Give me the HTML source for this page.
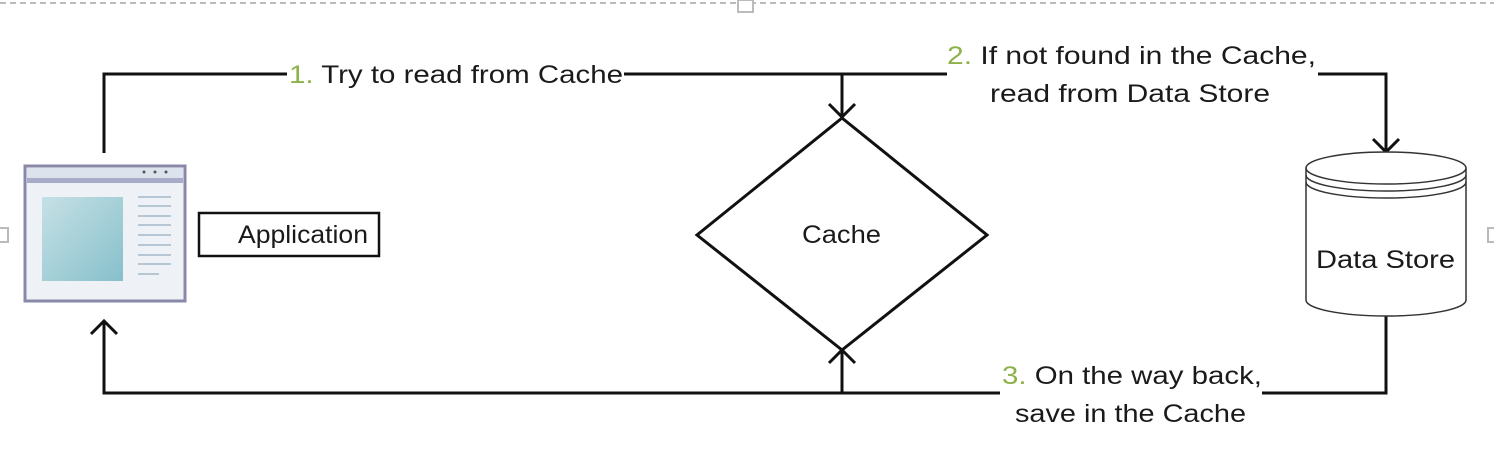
<!DOCTYPE html>
<html><head><meta charset="utf-8"><style>
html,body{margin:0;padding:0;background:#fff;width:1494px;height:459px;overflow:hidden}
svg{display:block}
text{font-family:"Liberation Sans",sans-serif;font-size:25px;fill:#1a1a1a}
.g{fill:#8db24a}
</style></head><body>
<svg width="1494" height="459" viewBox="0 0 1494 459">
<line x1="0" y1="3" x2="1494" y2="3" stroke="#bbb" stroke-width="2" stroke-dasharray="6,4"/>
<rect x="738" y="0" width="15" height="12" fill="#fff" stroke="#bbb" stroke-width="2"/>
<rect x="-6" y="228" width="14" height="14" fill="#fff" stroke="#bbb" stroke-width="2"/>
<rect x="1488" y="228" width="14" height="14" fill="#fff" stroke="#bbb" stroke-width="2"/>
<g stroke="#111" stroke-width="3" fill="none">
<polyline points="104,153 104,74 287,74"/>
<line x1="624" y1="74" x2="947" y2="74"/>
<line x1="842" y1="74" x2="842" y2="116"/>
<polyline points="829,104 842,117 855,104"/>
<polyline points="1318,74 1386,74 1386,152"/>
<polyline points="1373,139 1386,152 1399,139"/>
<polygon points="842,118 987,235 842,350 697,235"/>
<polyline points="1386,316 1386,393 1262,393"/>
<polyline points="1000,393 104,393 104,321"/>
<polyline points="91,334 104,321 117,334"/>
<line x1="842" y1="393" x2="842" y2="351"/>
<polyline points="829,363 842,350 855,363"/>
<rect x="199" y="213" width="180" height="43" stroke-width="2.5"/>
</g>
<g>
<rect x="25" y="166" width="160" height="135" fill="#eef2f6" stroke="#8a88a8" stroke-width="3"/>
<rect x="27" y="168" width="156" height="12" fill="#dde3ec"/>
<rect x="27" y="178" width="156" height="5" fill="#a9acc8"/>
<circle cx="144" cy="172" r="1.5" fill="#555"/><circle cx="155" cy="172" r="1.5" fill="#555"/><circle cx="166" cy="172" r="1.5" fill="#555"/>
<defs><linearGradient id="gr" x1="0" y1="0" x2="1" y2="1"><stop offset="0" stop-color="#c6e0e5"/><stop offset="1" stop-color="#86c0cb"/></linearGradient></defs>
<rect x="42" y="197" width="81" height="84" fill="url(#gr)"/>
<g stroke="#b6c6d2" stroke-width="2">
<line x1="138" y1="197" x2="171" y2="197"/><line x1="138" y1="206" x2="171" y2="206"/><line x1="138" y1="216" x2="171" y2="216"/><line x1="138" y1="225" x2="171" y2="225"/><line x1="138" y1="235" x2="171" y2="235"/><line x1="138" y1="245" x2="171" y2="245"/><line x1="138" y1="255" x2="171" y2="255"/><line x1="138" y1="264" x2="171" y2="264"/><line x1="138" y1="274" x2="159" y2="274"/>
</g></g>
<g stroke="#333" stroke-width="1.5" fill="#fff">
<path d="M1306,168 L1306,300 A80,16 0 0 0 1466,300 L1466,168"/>
<ellipse cx="1386" cy="168" rx="80" ry="16"/>
<path d="M1306,175 A80,16 0 0 0 1466,175" fill="none"/>
<path d="M1306,182 A80,16 0 0 0 1466,182" fill="none"/>
</g>
<text x="238" y="243" font-size="24" textLength="130" lengthAdjust="spacingAndGlyphs">Application</text>
<text x="802" y="243" textLength="79" lengthAdjust="spacingAndGlyphs">Cache</text>
<text x="1316" y="268" textLength="139" lengthAdjust="spacingAndGlyphs">Data Store</text>
<text x="289" y="83" textLength="334" lengthAdjust="spacingAndGlyphs"><tspan class="g">1.</tspan> Try to read from Cache</text>
<text x="947" y="64" textLength="369" lengthAdjust="spacingAndGlyphs"><tspan class="g">2.</tspan> If not found in the Cache,</text>
<text x="990" y="102" textLength="280" lengthAdjust="spacingAndGlyphs">read from Data Store</text>
<text x="1002" y="384" textLength="260" lengthAdjust="spacingAndGlyphs"><tspan class="g">3.</tspan> On the way back,</text>
<text x="1015" y="422" textLength="231" lengthAdjust="spacingAndGlyphs">save in the Cache</text>
</svg>
</body></html>
